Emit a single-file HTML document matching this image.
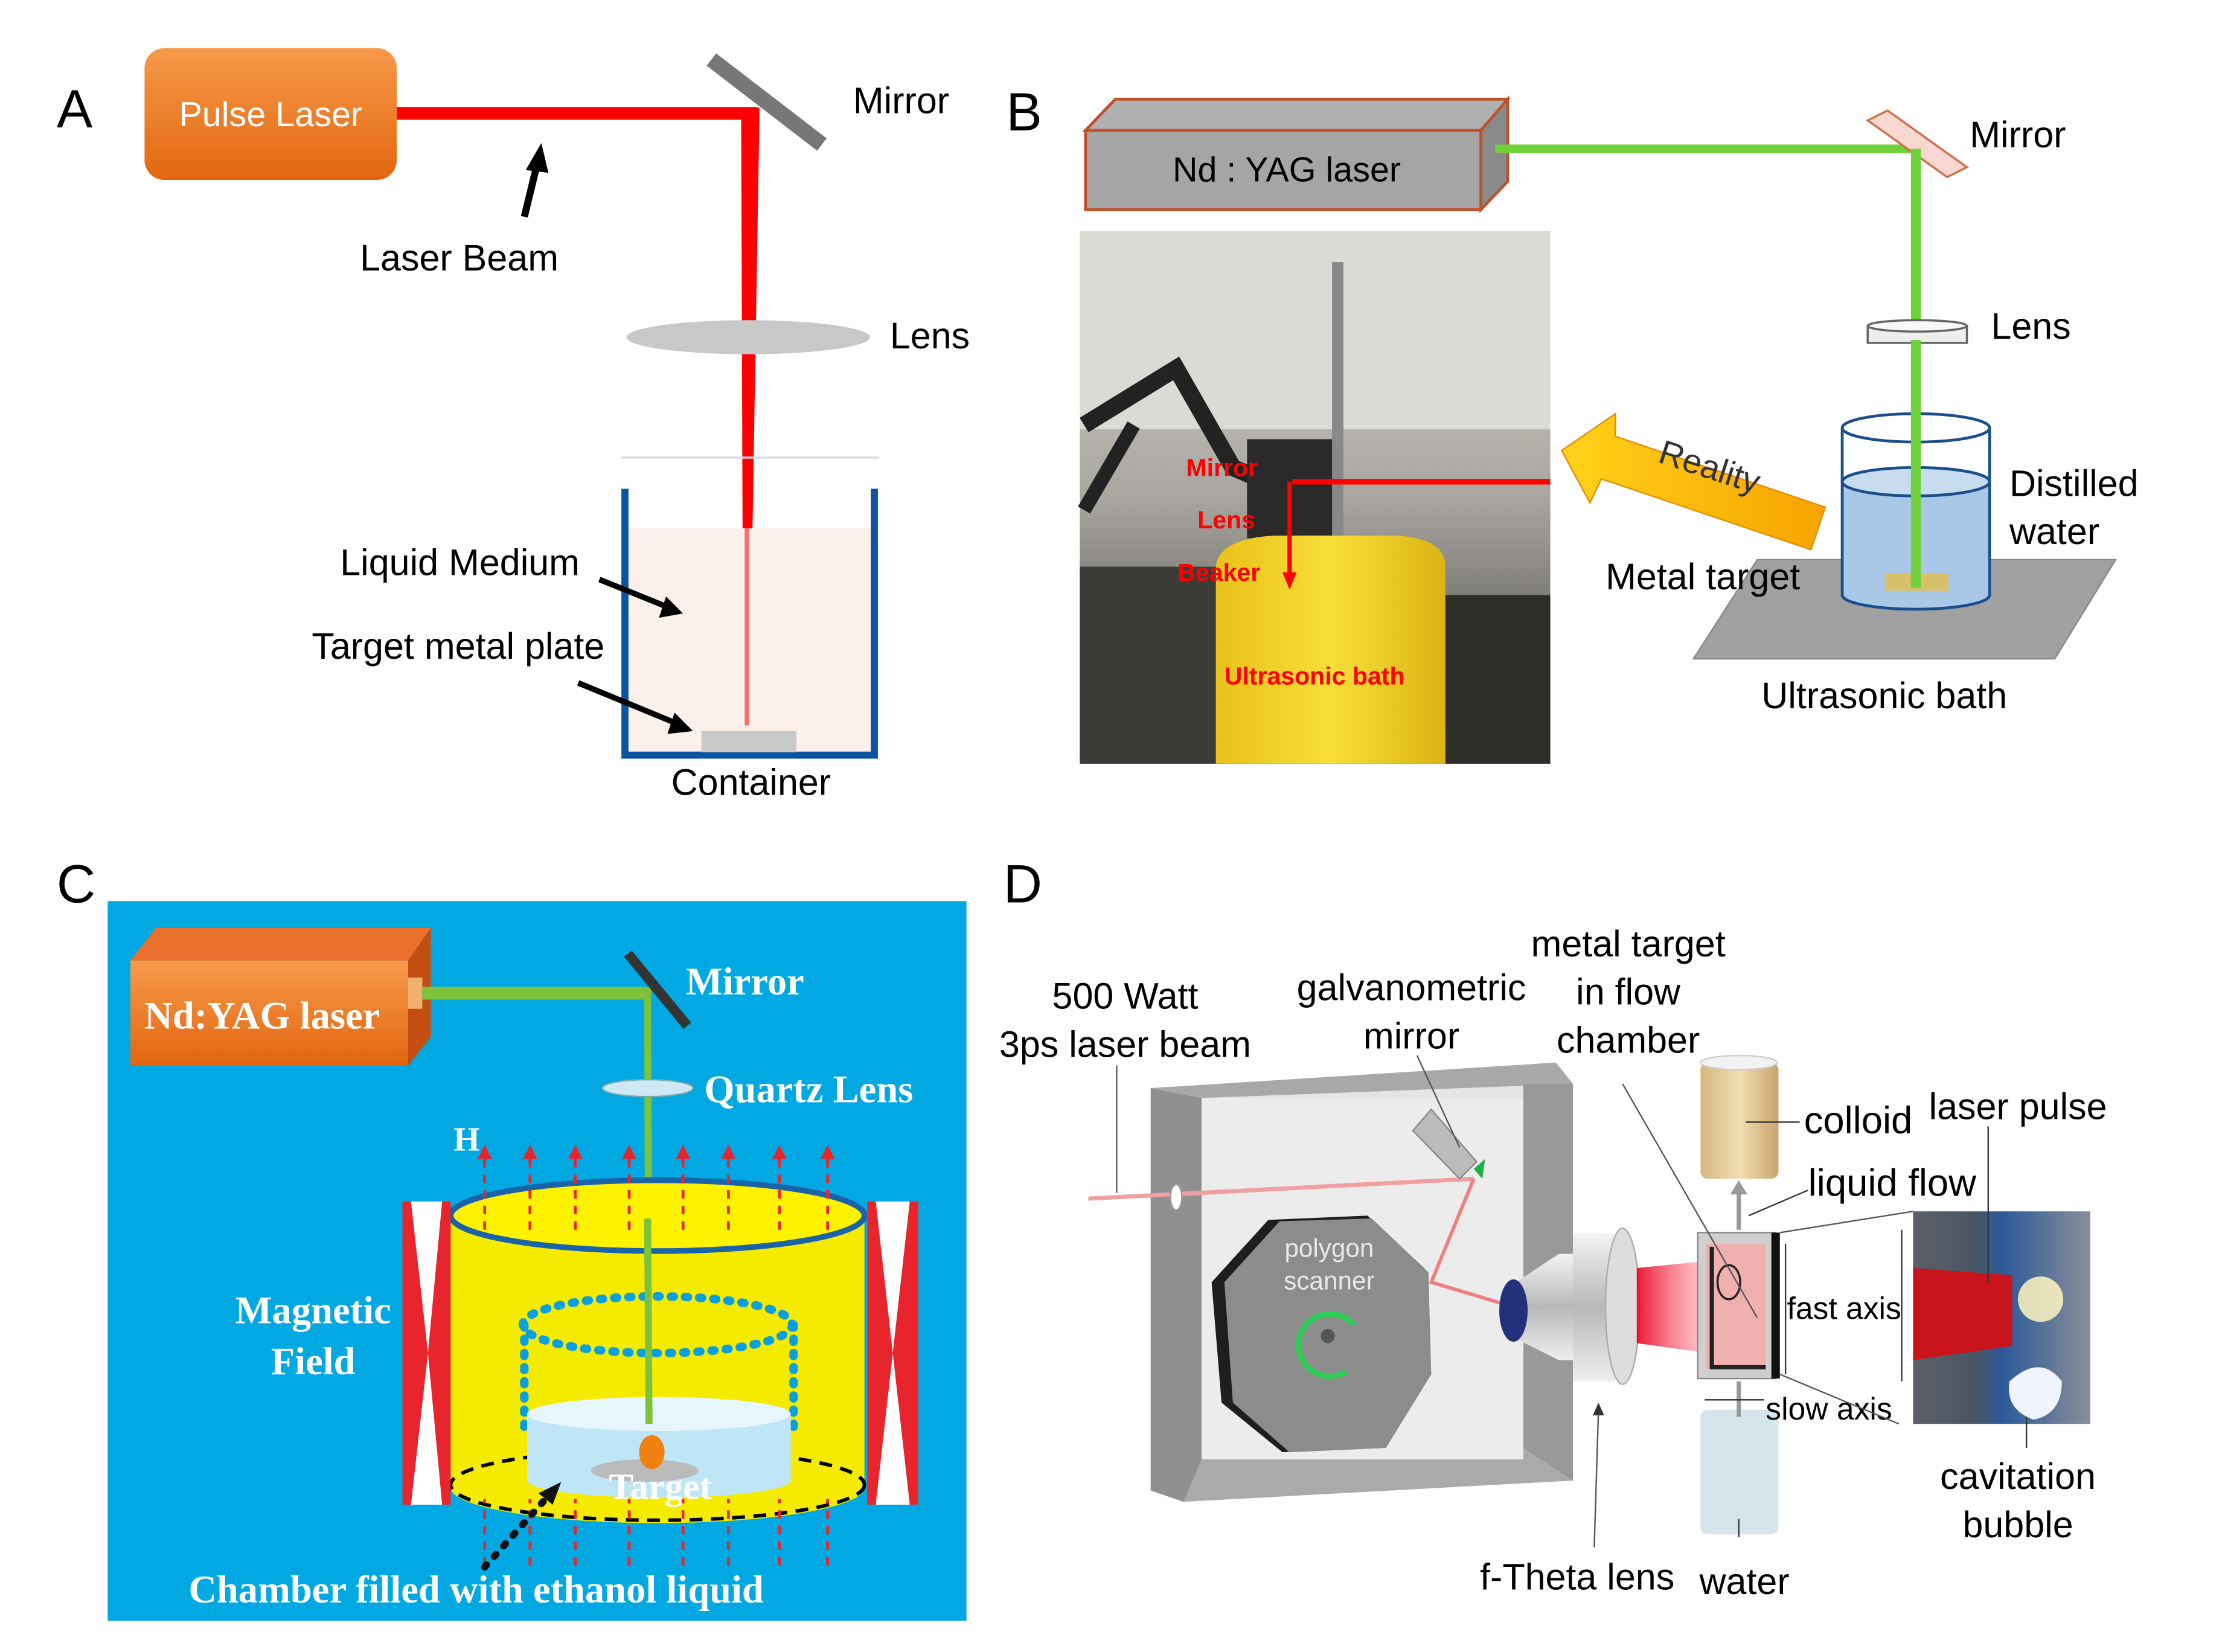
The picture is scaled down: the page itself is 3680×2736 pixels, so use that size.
<!DOCTYPE html>
<html><head><meta charset="utf-8"><style>
html,body{margin:0;padding:0;background:#fff}
svg{display:block}
text{font-family:"Liberation Sans",sans-serif}
.s{font-family:"Liberation Serif",serif;font-weight:bold;fill:#fff}
</style></head><body>
<svg width="3680" height="2736" viewBox="0 0 1568 1166" preserveAspectRatio="none" xmlns="http://www.w3.org/2000/svg">
<defs>
<linearGradient id="og" x1="0" y1="0" x2="0" y2="1"><stop offset="0" stop-color="#f79a4a"/><stop offset="1" stop-color="#e2660f"/></linearGradient>
<linearGradient id="ph" x1="0" y1="0" x2="0" y2="1"><stop offset="0" stop-color="#d8d5cf"/><stop offset="0.5" stop-color="#a9a6a0"/><stop offset="1" stop-color="#3b3a38"/></linearGradient>
<linearGradient id="yel" x1="0" y1="0" x2="1" y2="0"><stop offset="0" stop-color="#e8c21a"/><stop offset="0.5" stop-color="#f8dd3a"/><stop offset="1" stop-color="#d9b412"/></linearGradient>
<linearGradient id="ra" x1="0" y1="0" x2="1" y2="0"><stop offset="0" stop-color="#ffd21a"/><stop offset="1" stop-color="#f7a400"/></linearGradient>
<linearGradient id="cone" x1="0" y1="0" x2="1" y2="0"><stop offset="0" stop-color="#e8001c" stop-opacity="0.9"/><stop offset="1" stop-color="#ff8090" stop-opacity="0.4"/></linearGradient>
<linearGradient id="col" x1="0" y1="0" x2="1" y2="0"><stop offset="0" stop-color="#d6b77e"/><stop offset="0.5" stop-color="#f1ddb3"/><stop offset="1" stop-color="#c9a56a"/></linearGradient>
<linearGradient id="inset" x1="0" y1="0" x2="1" y2="0"><stop offset="0" stop-color="#5b6068"/><stop offset="0.35" stop-color="#4a5664"/><stop offset="0.5" stop-color="#2b5a9a"/><stop offset="1" stop-color="#8a8e96"/></linearGradient>
<linearGradient id="lensg" x1="0" y1="0" x2="0" y2="1"><stop offset="0" stop-color="#f4f4f4"/><stop offset="0.5" stop-color="#b8b8b8"/><stop offset="1" stop-color="#eee"/></linearGradient>
</defs>

<!-- ================= A ================= -->
<text x="40" y="90" font-size="38">A</text>
<rect x="102" y="34" width="178" height="93" rx="14" fill="url(#og)"/>
<text x="191" y="89" font-size="24.5" fill="#fff" text-anchor="middle">Pulse Laser</text>
<line x1="280" y1="80" x2="534" y2="80" stroke="#f00" stroke-width="9"/>
<polygon points="523,76 536,76 531,373 524,373" fill="#f00"/>
<polygon points="524,373 531,373 529,512 527,512" fill="#ff6060"/>
<line x1="502" y1="42" x2="580" y2="102" stroke="#777" stroke-width="11"/>
<text x="602" y="80" font-size="26">Mirror</text>
<line x1="370" y1="153" x2="379" y2="116" stroke="#000" stroke-width="5"/>
<polygon points="382,101 371,120 387,122" fill="#000"/>
<text x="254" y="191" font-size="26">Laser Beam</text>
<ellipse cx="528" cy="238" rx="86" ry="12" fill="#c8c8c8"/>
<text x="628" y="246" font-size="26">Lens</text>
<line x1="438" y1="323" x2="620" y2="323" stroke="#d8dbe8" stroke-width="1.5"/>
<rect x="443" y="373" width="172" height="158" fill="#fcf0ea"/>
<line x1="527" y1="373" x2="527" y2="512" stroke="#ff6a6a" stroke-width="3"/>
<path d="M441,345 V533 H617 V345" fill="none" stroke="#0b55a0" stroke-width="5"/>
<rect x="495" y="516" width="67" height="15" fill="#c8c8c8"/>
<text x="240" y="406" font-size="26">Liquid Medium</text>
<line x1="423" y1="409" x2="470" y2="428" stroke="#000" stroke-width="4"/>
<polygon points="482,433 465,436 470,421" fill="#000"/>
<text x="220" y="465" font-size="26">Target metal plate</text>
<line x1="408" y1="482" x2="476" y2="510" stroke="#000" stroke-width="4"/>
<polygon points="489,516 471,518 476,503" fill="#000"/>
<text x="530" y="561" font-size="26" text-anchor="middle">Container</text>

<!-- ================= B ================= -->
<text x="710" y="92" font-size="38">B</text>
<polygon points="766,92 787,70 1064,70 1045,92" fill="#b0b0b0" stroke="#c0502a" stroke-width="2"/>
<polygon points="1045,92 1064,70 1064,128 1045,148" fill="#8a8a8a" stroke="#c0502a" stroke-width="2"/>
<rect x="766" y="92" width="279" height="56" fill="#a5a5a5" stroke="#c0502a" stroke-width="2"/>
<text x="908" y="128" font-size="24.5" text-anchor="middle">Nd : YAG laser</text>
<line x1="1055" y1="105" x2="1354" y2="105" stroke="#6fd13a" stroke-width="6"/>
<polygon points="1318,85 1332,78 1388,118 1374,125" fill="#f8d8d0" stroke="#d07050" stroke-width="1.5"/>
<line x1="1352" y1="105" x2="1352" y2="415" stroke="#6fd13a" stroke-width="7"/>
<text x="1390" y="104" font-size="26">Mirror</text>
<rect x="1318" y="230" width="70" height="12" fill="#eee" stroke="#666" stroke-width="1.5"/>
<ellipse cx="1353" cy="230" rx="35" ry="4" fill="#f8f8f8" stroke="#666" stroke-width="1.5"/>
<text x="1405" y="239" font-size="26">Lens</text>
<polygon points="1195,465 1240,395 1493,395 1450,465" fill="#a0a0a0" stroke="#888"/>
<path d="M1300,340 V420 A52,10 0 0 0 1404,420 V340 Z" fill="#a9c8e8"/>
<ellipse cx="1352" cy="340" rx="52" ry="10" fill="#c8dcf0" stroke="#1d4e8c" stroke-width="2"/>
<path d="M1300,302 V420 A52,10 0 0 0 1404,420 V302" fill="none" stroke="#1d4e8c" stroke-width="2"/>
<ellipse cx="1352" cy="302" rx="52" ry="10" fill="none" stroke="#1d4e8c" stroke-width="2"/>
<rect x="1330" y="405" width="45" height="12" fill="#d6c06a"/>
<line x1="1352" y1="240" x2="1352" y2="415" stroke="#6fd13a" stroke-width="7"/>
<text x="1418" y="350" font-size="26">Distilled</text>
<text x="1418" y="384" font-size="26">water</text>
<text x="1133" y="416" font-size="26">Metal target</text>
<text x="1243" y="500" font-size="26">Ultrasonic bath</text>
<rect x="762" y="163" width="332" height="376" fill="url(#ph)"/>
<rect x="762" y="163" width="332" height="140" fill="#dcdad4"/>
<rect x="940" y="185" width="8" height="250" fill="#888"/>
<path d="M765,300 L830,260 L870,330 L905,345" fill="none" stroke="#222" stroke-width="12"/>
<path d="M765,360 L800,300" fill="none" stroke="#222" stroke-width="10"/>
<rect x="880" y="310" width="60" height="70" fill="#2a2a2a"/>
<rect x="762" y="400" width="100" height="139" fill="#3c3b38"/>
<path d="M858,400 Q860,380 900,378 L985,378 Q1020,380 1020,400 L1020,539 L858,539 Z" fill="url(#yel)"/>
<rect x="1020" y="420" width="74" height="119" fill="#2e2d2a"/>
<line x1="912" y1="340" x2="1094" y2="340" stroke="#f00" stroke-width="4"/>
<line x1="910" y1="340" x2="910" y2="410" stroke="#f00" stroke-width="3"/>
<polygon points="910,416 905,404 915,404" fill="#f00"/>
<text x="837" y="336" font-size="17.5" font-weight="bold" fill="#f00">Mirror</text>
<text x="845" y="373" font-size="17.5" font-weight="bold" fill="#f00">Lens</text>
<text x="831" y="410" font-size="17.5" font-weight="bold" fill="#f00">Beaker</text>
<text x="864" y="483" font-size="17.5" font-weight="bold" fill="#f00">Ultrasonic bath</text>
<polygon points="1102,318 1140,292 1140,308 1288,358 1278,388 1130,338 1122,355" fill="url(#ra)" stroke="#e88a00" stroke-width="1"/>
<text x="1165" y="338" font-size="24" fill="#333" transform="rotate(18 1205 345)">Reality</text>

<!-- ================= C ================= -->
<text x="40" y="637" font-size="38">C</text>
<rect x="76" y="636" width="606" height="508" fill="#02a8e1"/>
<polygon points="92,678 110,655 304,655 288,678" fill="#e8702c"/>
<polygon points="288,678 304,655 304,732 288,752" fill="#c24e12"/>
<rect x="92" y="678" width="196" height="74" fill="url(#og)"/>
<text x="185" y="726" class="s" font-size="27.5" text-anchor="middle">Nd:YAG laser</text>
<rect x="288" y="690" width="10" height="22" fill="#f0b070"/>
<line x1="298" y1="701" x2="456" y2="701" stroke="#7cc23a" stroke-width="9"/>
<line x1="457" y1="697" x2="458" y2="1005" stroke="#7cc23a" stroke-width="5"/>
<line x1="443" y1="673" x2="485" y2="724" stroke="#333" stroke-width="7"/>
<text x="484" y="702" class="s" font-size="27.5">Mirror</text>
<ellipse cx="457" cy="768" rx="32" ry="6" fill="#cfe8f4" stroke="#7aa" stroke-width="1"/>
<text x="497" y="778" class="s" font-size="27.5">Quartz Lens</text>
<path d="M318,858 V1050 A146,25 0 0 0 610,1050 V858 Z" fill="#f5eb00"/>
<ellipse cx="464" cy="858" rx="146" ry="25" fill="#fff200" stroke="#1b63a8" stroke-width="4"/>
<ellipse cx="464" cy="1048" rx="146" ry="25" fill="none" stroke="#000" stroke-width="2.5" stroke-dasharray="9,6"/>
<ellipse cx="464" cy="935" rx="95" ry="20" fill="none" stroke="#0aa0e0" stroke-width="6" stroke-dasharray="2,8" stroke-linecap="round"/>
<line x1="370" y1="935" x2="370" y2="1010" stroke="#0aa0e0" stroke-width="6" stroke-dasharray="2,8" stroke-linecap="round"/>
<line x1="560" y1="935" x2="560" y2="1010" stroke="#0aa0e0" stroke-width="6" stroke-dasharray="2,8" stroke-linecap="round"/>
<path d="M372,998 V1045 A93,12 0 0 0 558,1045 V998 Z" fill="#bfe6f6"/>
<ellipse cx="465" cy="998" rx="93" ry="12" fill="#e6f6fc"/>
<ellipse cx="455" cy="1038" rx="38" ry="8" fill="#bbb"/>
<ellipse cx="460" cy="1025" rx="9" ry="12" fill="#f08010"/>
<text x="466" y="1058" class="s" font-size="26" text-anchor="middle">Target</text>
<line x1="457" y1="860" x2="458" y2="1005" stroke="#7cc23a" stroke-width="5"/>
<g>
<rect x="284" y="848" width="34" height="214" fill="#e8242c"/>
<polygon points="290,848 312,848 302,955" fill="#fff"/><polygon points="290,1062 312,1062 302,955" fill="#fff"/>
<rect x="612" y="848" width="36" height="214" fill="#e8242c"/>
<polygon points="618,848 642,848 630,955" fill="#fff"/><polygon points="618,1062 642,1062 630,955" fill="#fff"/>
</g>
<g stroke="#e8242c" stroke-width="2" stroke-dasharray="6,5" fill="#e8242c">
<line x1="342" y1="868" x2="342" y2="815"/><line x1="374" y1="868" x2="374" y2="815"/><line x1="406" y1="868" x2="406" y2="815"/><line x1="444" y1="868" x2="444" y2="815"/><line x1="482" y1="868" x2="482" y2="815"/><line x1="514" y1="868" x2="514" y2="815"/><line x1="550" y1="868" x2="550" y2="815"/><line x1="584" y1="868" x2="584" y2="815"/>
<line x1="342" y1="1105" x2="342" y2="1058"/><line x1="374" y1="1105" x2="374" y2="1058"/><line x1="406" y1="1105" x2="406" y2="1058"/><line x1="444" y1="1105" x2="444" y2="1058"/><line x1="482" y1="1105" x2="482" y2="1058"/><line x1="514" y1="1105" x2="514" y2="1058"/><line x1="550" y1="1105" x2="550" y2="1058"/><line x1="584" y1="1105" x2="584" y2="1058"/>
</g>
<g fill="#e8242c">
<polygon points="342,808 337,818 347,818"/><polygon points="374,808 369,818 379,818"/><polygon points="406,808 401,818 411,818"/><polygon points="444,808 439,818 449,818"/><polygon points="482,808 477,818 487,818"/><polygon points="514,808 509,818 519,818"/><polygon points="550,808 545,818 555,818"/><polygon points="584,808 579,818 589,818"/>
</g>
<text x="320" y="812" class="s" font-size="24">H</text>
<text x="221" y="934" class="s" font-size="27.5" text-anchor="middle">Magnetic</text>
<text x="221" y="970" class="s" font-size="27.5" text-anchor="middle">Field</text>
<line x1="342" y1="1106" x2="385" y2="1058" stroke="#111" stroke-width="5" stroke-dasharray="2,8" stroke-linecap="round"/>
<polygon points="396,1046 380,1054 390,1062" fill="#111"/>
<text x="336" y="1131" class="s" font-size="27.5" text-anchor="middle">Chamber filled with ethanol liquid</text>

<!-- ================= D ================= -->
<text x="708" y="637" font-size="38">D</text>
<text x="794" y="712" font-size="26" text-anchor="middle">500 Watt</text>
<text x="794" y="746" font-size="26" text-anchor="middle">3ps laser beam</text>
<text x="996" y="706" font-size="26" text-anchor="middle">galvanometric</text>
<text x="996" y="740" font-size="26" text-anchor="middle">mirror</text>
<text x="1149" y="675" font-size="26" text-anchor="middle">metal target</text>
<text x="1149" y="709" font-size="26" text-anchor="middle">in flow</text>
<text x="1149" y="743" font-size="26" text-anchor="middle">chamber</text>
<polygon points="812,768 1098,750 1110,765 1110,1045 835,1060 812,1052" fill="#e4e4e4"/>
<polygon points="812,768 848,775 848,1045 835,1060 812,1052" fill="#909090"/>
<polygon points="812,768 1098,750 1110,765 848,775" fill="#a8a8a8"/>
<polygon points="1075,765 1110,765 1110,1045 1075,1040" fill="#999"/>
<polygon points="848,1030 1075,1022 1110,1045 835,1060" fill="#aaa"/>
<rect x="848" y="775" width="227" height="255" fill="#ececec"/>
<line x1="768" y1="846" x2="1040" y2="832" stroke="#f0a0a0" stroke-width="3"/>
<ellipse cx="830" cy="845" rx="4" ry="9" fill="#fff" stroke="#999"/>
<line x1="788" y1="752" x2="788" y2="842" stroke="#555" stroke-width="1"/>
<polyline points="1040,832 1010,905 1060,920" fill="none" stroke="#f08080" stroke-width="2.5"/>
<polygon points="997,798 1010,783 1042,820 1030,832" fill="#bbb" stroke="#888"/>
<path d="M1040,825 L1048,818 L1046,832 Z" fill="#1ab34a"/>
<line x1="1000" y1="745" x2="1030" y2="810" stroke="#555" stroke-width="1"/>
<polygon points="895,861 965,858 1005,895 1010,970 975,1020 905,1025 862,990 855,905" fill="#1e1e1e"/>
<polygon points="903,862 968,860 1008,898 1010,970 978,1022 910,1025 870,990 864,905" fill="#8c8c8c"/>
<text x="938" y="887" font-size="18" fill="#e8e8e8" text-anchor="middle">polygon</text>
<text x="938" y="910" font-size="18" fill="#e8e8e8" text-anchor="middle">scanner</text>
<path d="M955,935 A22,22 0 1 0 950,968" fill="none" stroke="#2ecc55" stroke-width="4"/>
<circle cx="937" cy="943" r="5" fill="#555"/>
<polygon points="1070,905 1100,885 1110,885 1110,960 1100,960 1070,945" fill="url(#lensg)"/>
<ellipse cx="1068" cy="925" rx="10" ry="22" fill="#23307a"/>
<rect x="1110" y="870" width="30" height="105" fill="url(#lensg)"/>
<ellipse cx="1145" cy="922" rx="12" ry="55" fill="#ddd" stroke="#aaa"/>
<polygon points="1155,895 1205,890 1205,955 1155,948" fill="url(#cone)"/>
<line x1="1128" y1="995" x2="1125" y2="1092" stroke="#555" stroke-width="1"/>
<polygon points="1128,990 1124,999 1132,999" fill="#333"/>
<text x="1113" y="1122" font-size="26" text-anchor="middle">f-Theta lens</text>
<rect x="1198" y="870" width="55" height="103" fill="#cfcfcf" stroke="#888"/>
<rect x="1250" y="870" width="6" height="103" fill="#111"/>
<rect x="1204" y="878" width="42" height="88" fill="#f0b0b0"/>
<path d="M1208,880 V965 H1246" fill="none" stroke="#222" stroke-width="3"/>
<ellipse cx="1220" cy="905" rx="8" ry="12" fill="none" stroke="#222" stroke-width="1.5"/>
<line x1="1145" y1="765" x2="1240" y2="930" stroke="#555" stroke-width="1"/>
<rect x="1200" y="750" width="55" height="82" rx="5" fill="url(#col)"/>
<ellipse cx="1227" cy="750" rx="27" ry="5" fill="#f2f2f2" stroke="#ccc"/>
<line x1="1227" y1="838" x2="1227" y2="868" stroke="#999" stroke-width="3"/>
<polygon points="1227,833 1221,843 1233,843" fill="#999"/>
<line x1="1270" y1="792" x2="1232" y2="792" stroke="#333" stroke-width="1"/>
<text x="1273" y="800" font-size="27">colloid</text>
<text x="1276" y="844" font-size="27">liquid flow</text>
<line x1="1276" y1="840" x2="1234" y2="858" stroke="#333" stroke-width="1"/>
<rect x="1200" y="995" width="55" height="88" rx="5" fill="#d6e4ec"/>
<line x1="1227" y1="975" x2="1227" y2="1000" stroke="#999" stroke-width="3"/>
<line x1="1227" y1="1085" x2="1227" y2="1072" stroke="#333" stroke-width="1"/>
<text x="1231" y="1125" font-size="26" text-anchor="middle">water</text>
<line x1="1203" y1="988" x2="1245" y2="988" stroke="#333" stroke-width="1"/>
<text x="1246" y="1002" font-size="22">slow axis</text>
<line x1="1260" y1="878" x2="1260" y2="970" stroke="#333" stroke-width="1"/>
<text x="1261" y="931" font-size="22">fast axis</text>
<rect x="1350" y="855" width="125" height="150" fill="url(#inset)"/>
<polygon points="1350,895 1420,900 1420,950 1350,960" fill="#c8141a"/>
<circle cx="1440" cy="917" r="16" fill="#fff6c0" opacity="0.85"/>
<path d="M1418,975 Q1440,955 1455,975 Q1455,998 1435,1002 Q1415,995 1418,975 Z" fill="#f0f4ff"/>
<line x1="1342" y1="868" x2="1342" y2="975" stroke="#333" stroke-width="1"/>
<line x1="1403" y1="795" x2="1403" y2="905" stroke="#333" stroke-width="1"/>
<line x1="1430" y1="1000" x2="1430" y2="1022" stroke="#333" stroke-width="1"/>
<line x1="1256" y1="870" x2="1350" y2="855" stroke="#555" stroke-width="1"/>
<line x1="1256" y1="970" x2="1340" y2="1005" stroke="#555" stroke-width="1"/>
<text x="1424" y="790" font-size="26" text-anchor="middle">laser pulse</text>
<text x="1424" y="1051" font-size="26" text-anchor="middle">cavitation</text>
<text x="1424" y="1085" font-size="26" text-anchor="middle">bubble</text>
</svg>
</body></html>
